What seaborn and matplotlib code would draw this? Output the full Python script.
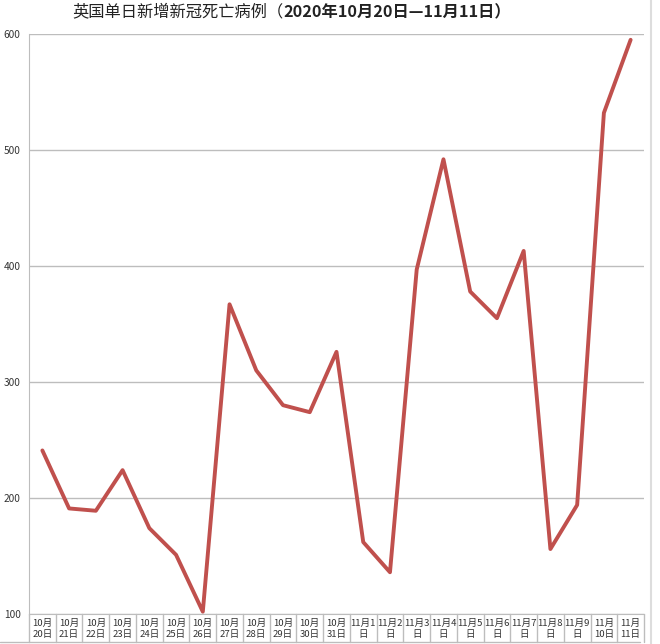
import numpy as np
import pandas as pd
import seaborn as sns
import matplotlib.pyplot as plt
from matplotlib.lines import Line2D

# dati: decessi giornalieri UK
date_labels = ['10月\n20日', '10月\n21日', '10月\n22日', '10月\n23日', '10月\n24日',
               '10月\n25日', '10月\n26日', '10月\n27日', '10月\n28日', '10月\n29日',
               '10月\n30日', '10月\n31日', '11月1\n日', '11月2\n日', '11月3\n日',
               '11月4\n日', '11月5\n日', '11月6\n日', '11月7\n日', '11月8\n日',
               '11月9\n日', '11月\n10日', '11月\n11日']
deaths = [241, 191, 189, 224, 174, 151, 102, 367, 310, 280, 274, 326,
          162, 136, 397, 492, 378, 355, 413, 156, 194, 532, 595]
y_ticks = [100, 200, 300, 400, 500, 600]

sns.set_style('white')
plt.rcParams['font.family'] = ['Noto Sans CJK SC', 'DejaVu Sans']

df = pd.DataFrame({'pos': np.arange(len(deaths)), 'deaths': deaths})

fig = plt.figure(figsize=(6.6, 6.44), dpi=100)
ax = fig.add_axes([29/660, 1 - 614/644, (644 - 29)/660, (614 - 34)/644])

sns.lineplot(data=df, x='pos', y='deaths', ax=ax, color='#C0504D', linewidth=2.8, sort=False)

ax.set_xlim(-0.5, len(deaths) - 0.5)
ax.set_ylim(100, 600)
ax.set_yticks(y_ticks)
ax.set_yticklabels([str(v) for v in y_ticks], fontsize=7.3, color='#333333')
ax.tick_params(axis='y', length=0, pad=6)
ax.yaxis.grid(True, color='#BDBDBD', linewidth=1)
ax.set_axisbelow(True)
ax.set_xlabel('')
ax.set_ylabel('')

ax.set_xticks(df['pos'])
ax.set_xticklabels(date_labels, fontsize=6.9, color='#333333', linespacing=1.25)
ax.tick_params(axis='x', length=0, pad=3.5)

for s in ['top', 'right']:
    ax.spines[s].set_visible(False)
ax.spines['left'].set_color('#BDBDBD')
ax.spines['bottom'].set_color('#BDBDBD')

# griglia della tabella sotto l'asse
tr = ax.get_xaxis_transform()
row_h = 28 / 580
for b in np.arange(len(deaths) + 1) - 0.5:
    ax.plot([b, b], [0, -row_h], color='#BDBDBD', linewidth=1, transform=tr, clip_on=False)
fig.add_artist(Line2D([0, 640/660], [1 - 642/644, 1 - 642/644], color='#BDBDBD', linewidth=1))
fig.add_artist(Line2D([651/660, 651/660], [0, 1], color='#DDDDDD', linewidth=1.5))

# titolo: parte cinese normale, date in grassetto
t1 = fig.text(72/660, 1 - 12/644, '英国单日新增新冠死亡病例（',
              ha='left', va='center', fontsize=11.7, color='#222222')
fig.canvas.draw()
bb = t1.get_window_extent()
fig.text(bb.x1 / fig.bbox.width, 1 - 12/644, '2020年10月20日—11月11日）',
         ha='left', va='center', fontsize=11.7, fontweight='bold', color='#222222')

plt.savefig('out.png', dpi=100)
